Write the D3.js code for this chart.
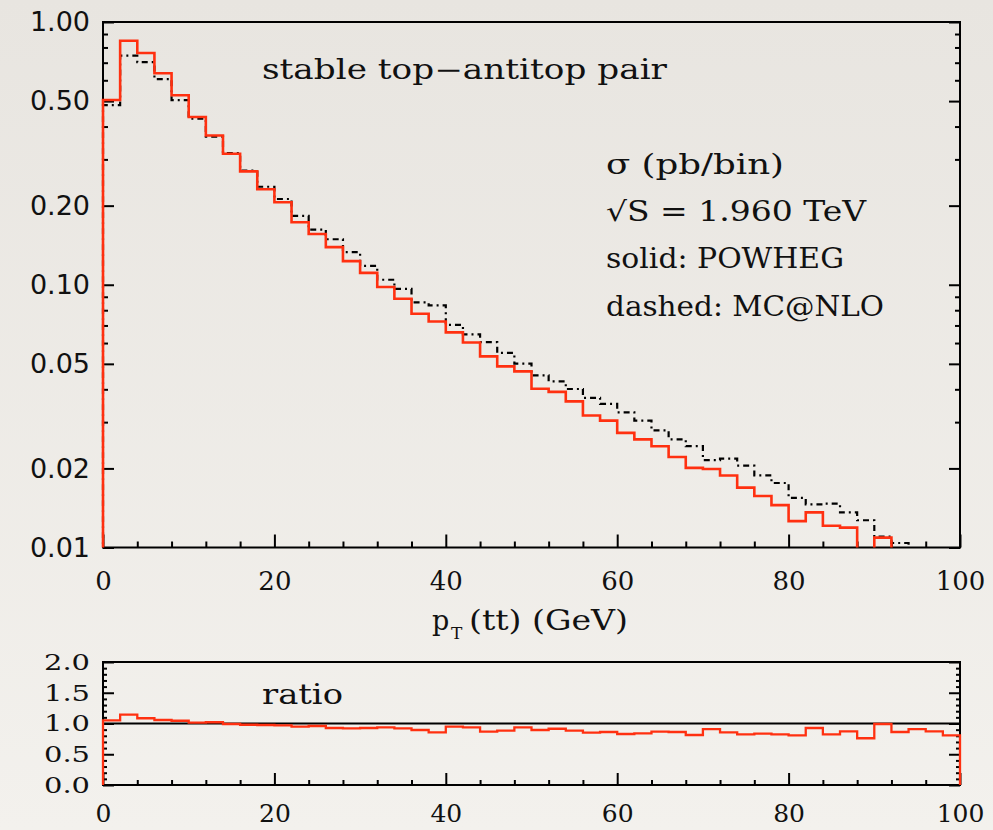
<!DOCTYPE html>
<html>
<head>
<meta charset="utf-8">
<script src="https://cdn.jsdelivr.net/npm/d3@7"></script>
<style>
  body { margin: 0; background: #ece9e4; }
  svg { display: block; }
  text { fill: #111; }
</style>
</head>
<body>
<svg id="chart" width="993" height="830"></svg>
<script>
// pT(tt) histogram, 2 GeV bins
const binLo = [0, 2, 4, 6, 8, 10, 12, 14, 16, 18, 20, 22, 24, 26, 28, 30, 32, 34, 36, 38,
  40, 42, 44, 46, 48, 50, 52, 54, 56, 58, 60, 62, 64, 66, 68, 70, 72, 74, 76, 78,
  80, 82, 84, 86, 88, 90, 92, 94, 96, 98];
const binWidth = 2;

// sigma (pb/bin), POWHEG (solid red)
const powheg = [0.505, 0.849, 0.762, 0.638, 0.526, 0.435, 0.370, 0.315, 0.270, 0.231,
  0.206, 0.173, 0.156, 0.139, 0.123, 0.111, 0.098, 0.0885, 0.0776, 0.0725,
  0.0659, 0.0603, 0.0534, 0.0489, 0.0468, 0.0402, 0.0391, 0.0360, 0.0318, 0.0304,
  0.0273, 0.0258, 0.0243, 0.0221, 0.0201, 0.0199, 0.0188, 0.0169, 0.0157, 0.0145,
  0.0126, 0.0136, 0.0121, 0.0119, 0.0097, 0.0109, 0.0090, 0.0088, 0.0080, 0.0071];

// sigma (pb/bin), MC@NLO (dashed black)
const mcnlo = [0.483, 0.745, 0.703, 0.606, 0.504, 0.429, 0.366, 0.317, 0.272, 0.236,
  0.212, 0.183, 0.162, 0.149, 0.133, 0.118, 0.1045, 0.0964, 0.0857, 0.0835,
  0.0703, 0.0647, 0.0605, 0.0550, 0.0501, 0.0452, 0.0429, 0.0401, 0.0371, 0.0352,
  0.0327, 0.0304, 0.0279, 0.0258, 0.0243, 0.0215, 0.0218, 0.0205, 0.0188, 0.0176,
  0.01545, 0.0146, 0.0147, 0.0136, 0.0127, 0.0110, 0.0104, 0.0097, 0.0092, 0.0088];

// POWHEG / MC@NLO
const ratio = [1.05, 1.145, 1.085, 1.057, 1.045, 1.013, 1.02, 0.992, 0.98, 0.976,
  0.97, 0.948, 0.959, 0.927, 0.92, 0.927, 0.938, 0.92, 0.894, 0.857,
  0.948, 0.938, 0.867, 0.883, 0.938, 0.894, 0.915, 0.883, 0.851, 0.862,
  0.829, 0.84, 0.867, 0.862, 0.813, 0.91, 0.857, 0.824, 0.835, 0.824,
  0.808, 0.927, 0.824, 0.873, 0.76, 0.992, 0.862, 0.91, 0.873, 0.808];

const yMajor = [0.01, 0.02, 0.05, 0.1, 0.2, 0.5, 1];
const yMinor = [0.03, 0.04, 0.06, 0.07, 0.08, 0.09, 0.3, 0.4, 0.6, 0.7, 0.8, 0.9];
const xMajor = [0, 20, 40, 60, 80, 100];
const xMinor = [4, 8, 12, 16, 24, 28, 32, 36, 44, 48, 52, 56, 64, 68, 72, 76, 84, 88, 92, 96];
const rMajor = [0, 0.5, 1, 1.5, 2];
const rMinor = [0.1, 0.2, 0.3, 0.4, 0.6, 0.7, 0.8, 0.9, 1.1, 1.2, 1.3, 1.4, 1.6, 1.7, 1.8, 1.9];

const RED = '#ff3010';
const SERIF = "'DejaVu Serif', serif";
const SANS = "'DejaVu Sans', sans-serif";

const MAIN = { left: 103, right: 960, top: 22, bottom: 547.5 };
const RAT = { left: 103, right: 960, top: 662, bottom: 785 };

const svg = d3.select('#chart');

const defs = svg.append('defs');
const grad = defs.append('linearGradient').attr('id', 'bg').attr('x1', 0).attr('y1', 0).attr('x2', 0).attr('y2', 1);
grad.append('stop').attr('offset', '0%').attr('stop-color', '#e8e5e0');
grad.append('stop').attr('offset', '100%').attr('stop-color', '#f3f1ed');
svg.append('rect').attr('width', 993).attr('height', 830).attr('fill', 'url(#bg)');

defs.append('clipPath').attr('id', 'clipMain')
  .append('rect')
  .attr('x', MAIN.left - 4).attr('y', MAIN.top)
  .attr('width', MAIN.right - MAIN.left + 8).attr('height', MAIN.bottom - MAIN.top);

const x = d3.scaleLinear().domain([0, 100]).range([MAIN.left, MAIN.right]);
const y = d3.scaleLog().domain([0.01, 1]).range([MAIN.bottom, MAIN.top]);
const yr = d3.scaleLinear().domain([0, 2]).range([RAT.bottom, RAT.top]);

function stepPoints(vals, base) {
  const pts = [[binLo[0], base]];
  vals.forEach((v, i) => {
    pts.push([binLo[i], v]);
    pts.push([binLo[i] + binWidth, v]);
  });
  pts.push([binLo[binLo.length - 1] + binWidth, base]);
  return pts;
}

function styleAxis(g, font, size) {
  g.select('.domain').remove();
  g.selectAll('line').attr('stroke', '#000').attr('stroke-width', 2);
  g.selectAll('text').attr('font-family', font).attr('font-size', size).attr('fill', '#111');
}

// ---------- main panel ----------
const fmt2 = d3.format('.2f');

svg.append('g')
  .attr('transform', `translate(${MAIN.left},0)`)
  .call(d3.axisLeft(y).tickValues(yMajor).tickSize(-11).tickPadding(13).tickFormat(fmt2))
  .call(g => styleAxis(g, SANS, 27));
svg.append('g')
  .attr('transform', `translate(${MAIN.left},0)`)
  .call(d3.axisLeft(y).tickValues(yMinor).tickSize(-5).tickFormat(''))
  .call(g => styleAxis(g, SANS, 27));
svg.append('g')
  .attr('transform', `translate(${MAIN.right},0)`)
  .call(d3.axisRight(y).tickValues(yMajor).tickSize(-11).tickFormat(''))
  .call(g => styleAxis(g, SANS, 27));
svg.append('g')
  .attr('transform', `translate(${MAIN.right},0)`)
  .call(d3.axisRight(y).tickValues(yMinor).tickSize(-5).tickFormat(''))
  .call(g => styleAxis(g, SANS, 27));
svg.append('g')
  .attr('transform', `translate(0,${MAIN.bottom})`)
  .call(d3.axisBottom(x).tickValues(xMajor).tickSize(-13).tickPadding(24).tickFormat(d3.format('d')))
  .call(g => styleAxis(g, SERIF, 26));
svg.append('g')
  .attr('transform', `translate(0,${MAIN.bottom})`)
  .call(d3.axisBottom(x).tickValues(xMinor).tickSize(-6).tickFormat(''))
  .call(g => styleAxis(g, SERIF, 26));

svg.append('rect')
  .attr('x', MAIN.left).attr('y', MAIN.top)
  .attr('width', MAIN.right - MAIN.left).attr('height', MAIN.bottom - MAIN.top)
  .attr('fill', 'none').attr('stroke', '#000').attr('stroke-width', 2);

const mainLine = d3.line().x(d => x(d[0])).y(d => y(d[1]));
const plot = svg.append('g').attr('clip-path', 'url(#clipMain)');

plot.append('path')
  .attr('d', mainLine(stepPoints(mcnlo, 0.001)))
  .attr('fill', 'none').attr('stroke', '#000').attr('stroke-width', 2.2)
  .attr('stroke-dasharray', '6,4,2,4');

plot.append('path')
  .attr('d', mainLine(stepPoints(powheg, 0.001)))
  .attr('fill', 'none').attr('stroke', RED).attr('stroke-width', 2.6);

// labels
function label(txt, px, py, len, color) {
  svg.append('text')
    .attr('x', px).attr('y', py)
    .attr('font-family', SERIF).attr('font-size', 27)
    .attr('textLength', len).attr('lengthAdjust', 'spacingAndGlyphs')
    .attr('fill', color || '#111')
    .text(txt);
}
label('stable top\u2212antitop pair', 262, 79, 405);
label('\u03c3 (pb/bin)', 606, 174, 178);
label('\u221aS = 1.960 TeV', 606, 221, 260);
label('solid: POWHEG', 606, 268, 238, RED);
label('dashed: MC@NLO', 606, 316, 278);

// x title with subscript
svg.append('text').attr('x', 432).attr('y', 630)
  .attr('font-family', SERIF).attr('font-size', 27).text('p');
svg.append('text').attr('x', 451).attr('y', 639)
  .attr('font-family', SERIF).attr('font-size', 17).text('T');
svg.append('text').attr('x', 469).attr('y', 630)
  .attr('font-family', SERIF).attr('font-size', 27)
  .attr('textLength', 159).attr('lengthAdjust', 'spacingAndGlyphs')
  .text('(tt) (GeV)');

// ---------- ratio panel ----------
const fmt1 = d3.format('.1f');
svg.append('g')
  .attr('transform', `translate(${RAT.left},0)`)
  .call(d3.axisLeft(yr).tickValues(rMajor).tickSize(-11).tickPadding(13).tickFormat(fmt1))
  .call(g => styleAxis(g, SERIF, 23))
  .call(g => g.selectAll('text').attr('textLength', 46).attr('lengthAdjust', 'spacingAndGlyphs'));
svg.append('g')
  .attr('transform', `translate(${RAT.left},0)`)
  .call(d3.axisLeft(yr).tickValues(rMinor).tickSize(-4).tickFormat(''))
  .call(g => styleAxis(g, SERIF, 23));
svg.append('g')
  .attr('transform', `translate(${RAT.right},0)`)
  .call(d3.axisRight(yr).tickValues(rMajor).tickSize(-11).tickFormat(''))
  .call(g => styleAxis(g, SERIF, 23));
svg.append('g')
  .attr('transform', `translate(${RAT.right},0)`)
  .call(d3.axisRight(yr).tickValues(rMinor).tickSize(-4).tickFormat(''))
  .call(g => styleAxis(g, SERIF, 23));
svg.append('g')
  .attr('transform', `translate(0,${RAT.bottom})`)
  .call(d3.axisBottom(x).tickValues(xMajor).tickSize(-12).tickPadding(19).tickFormat(d3.format('d')))
  .call(g => styleAxis(g, SERIF, 25));
svg.append('g')
  .attr('transform', `translate(0,${RAT.bottom})`)
  .call(d3.axisBottom(x).tickValues(xMinor).tickSize(-5).tickFormat(''))
  .call(g => styleAxis(g, SERIF, 25));

svg.append('rect')
  .attr('x', RAT.left).attr('y', RAT.top)
  .attr('width', RAT.right - RAT.left).attr('height', RAT.bottom - RAT.top)
  .attr('fill', 'none').attr('stroke', '#000').attr('stroke-width', 2);

svg.append('line')
  .attr('x1', x(0)).attr('x2', x(100))
  .attr('y1', yr(1)).attr('y2', yr(1))
  .attr('stroke', '#000').attr('stroke-width', 2);

const ratioLine = d3.line().x(d => x(d[0])).y(d => yr(d[1]));
svg.append('path')
  .attr('d', ratioLine(stepPoints(ratio, 0)))
  .attr('fill', 'none').attr('stroke', RED).attr('stroke-width', 2.3);

label('ratio', 262, 704, 81);
</script>
</body>
</html>
